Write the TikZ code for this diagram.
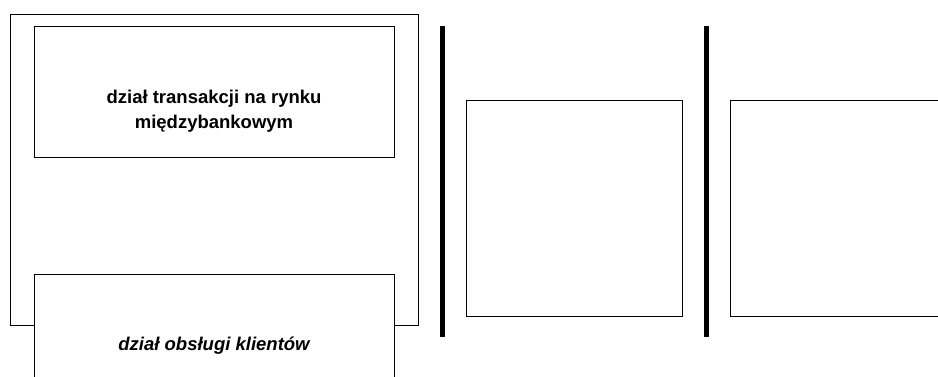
\documentclass[tikz,border=0pt]{standalone}
\usepackage{fontspec}
\setmainfont{Liberation Sans}
\begin{document}
\begin{tikzpicture}[x=1pt,y=-1pt,
  box/.style={draw=black,fill=white,line width=1.4pt,inner sep=0pt,anchor=north west},
  lbl/.style={inner sep=0pt,align=center,font=\bfseries\fontsize{18.5}{25}\selectfont},
  bar/.style={line width=5pt,black}]
\useasboundingbox (0,0) rectangle (938,376);
\clip (0,0) rectangle (938,376);
\node[draw=black,line width=1.4pt,minimum width=408pt,minimum height=311pt,anchor=north west,inner sep=0pt] (outer) at (10,14) {};
\node[box,minimum width=360pt,minimum height=131pt] (top) at (34,26) {};
\node[lbl] (toptext) at (214,111) {dział transakcji na rynku\\międzybankowym};
\node[box,minimum width=360pt,minimum height=146pt] (bottom) at (34,274) {};
\node[lbl,font=\bfseries\itshape\fontsize{18.5}{25}\selectfont] (bottomtext) at (214,346) {dział obsługi klientów};
\coordinate (l1t) at (442,26);
\coordinate (l1b) at (442,337);
\draw[bar] (l1t) -- (l1b);
\node[box,minimum width=216pt,minimum height=216pt] (mid) at (466,100) {};
\coordinate (l2t) at (706,26);
\coordinate (l2b) at (706,337);
\draw[bar] (l2t) -- (l2b);
\node[box,minimum width=216pt,minimum height=216pt] (right) at (730,100) {};
\end{tikzpicture}
\end{document}
